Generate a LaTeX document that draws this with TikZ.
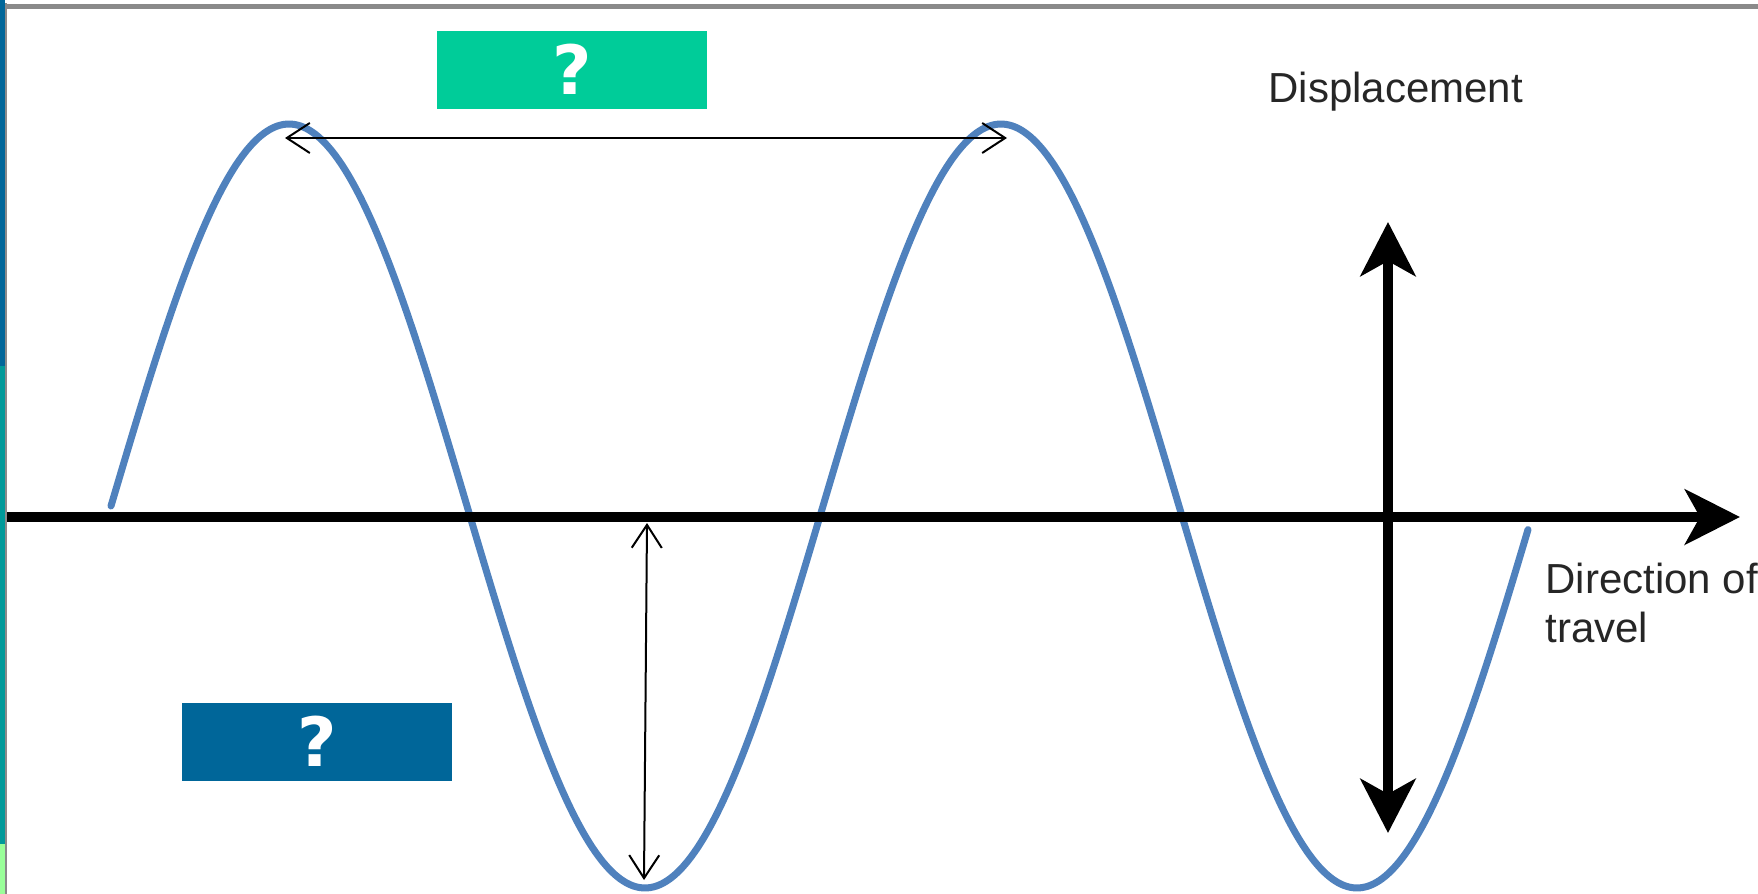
\documentclass[tikz,border=0pt]{standalone}
\usepackage{fontspec}
\setmainfont{Liberation Sans}
\newfontfamily\qfont{DejaVu Sans}
\usetikzlibrary{arrows.meta}
\definecolor{boxgreen}{HTML}{00CC99}
\definecolor{boxblue}{HTML}{006699}
\definecolor{stripteal}{HTML}{009999}
\definecolor{striplight}{HTML}{99FF99}
\definecolor{wave}{HTML}{4F81BD}
\definecolor{frame}{HTML}{8A8A8A}
\tikzset{
  qbox/.style={draw=none, inner sep=0pt, minimum width=135pt, minimum height=39pt,
    text=white, font=\qfont\bfseries\fontsize{34}{36}\selectfont,
    text height=24.5pt, text depth=0pt},
  lbl/.style={inner sep=0pt, font=\fontsize{21}{24.5}\selectfont, text=black!85},
  bigarrow/.style={line width=5.25pt, -{Stealth[length=27.5pt,width=27.5pt,inset=7.5pt]}},
  bigdbl/.style={line width=5pt, {Stealth[length=27pt,width=27.5pt,inset=7.5pt]}-{Stealth[length=27pt,width=27.5pt,inset=7.5pt]}},
  thindbl/.style={line width=1pt, {Straight Barb[length=11.5pt,width=15pt]}-{Straight Barb[length=11.5pt,width=15pt]}},
  wavestyle/.style={draw=wave, line width=3.5pt, line cap=round}
}
\begin{document}
\begin{tikzpicture}[x=0.5pt,y=-0.5pt]
\useasboundingbox (0,0) rectangle (1758,894);
\fill[white] (0,0) rectangle (1758,894);
% left strip
\fill[boxblue] (0,0) rectangle (5,366);
\fill[stripteal] (0,366) rectangle (5,844);
\fill[striplight] (0,844) rectangle (5,894);
\draw[frame, line width=1pt] (6,3) -- (6,894);
\draw[frame, line width=2.5pt] (5,6) -- (1758,6);
% wave
\draw[wavestyle] plot[domain=111:1528, samples=240, smooth] (\x, {506-382*sin(0.505618*(\x-111))});
% axis
\coordinate (axL) at (7,517);
\coordinate (axR) at (1740,517);
\draw[bigarrow] (axL) -- (axR);
% displacement arrow
\coordinate (dTop) at (1388,222);
\coordinate (dBot) at (1388,833);
\draw[bigdbl] (dBot) -- (dTop);
% wavelength arrow
\coordinate (wL) at (285,138);
\coordinate (wR) at (1007,138);
\draw[thindbl] (wL) -- (wR);
% amplitude arrow
\coordinate (aTop) at (647,523);
\coordinate (aBot) at (644,880);
\draw[thindbl] (aTop) -- (aBot);
% boxes
\node[qbox, fill=boxgreen] (qgreen) at (572,70) {?};
\node[qbox, fill=boxblue] (qblue) at (317,741.5) {?};
% labels
\node[lbl, anchor=base west] (disp) at (1268,102) {Displacement};
\node[lbl, anchor=base west, align=left] (dir) at (1545,642) {Direction of\\travel};
\end{tikzpicture}
\end{document}
